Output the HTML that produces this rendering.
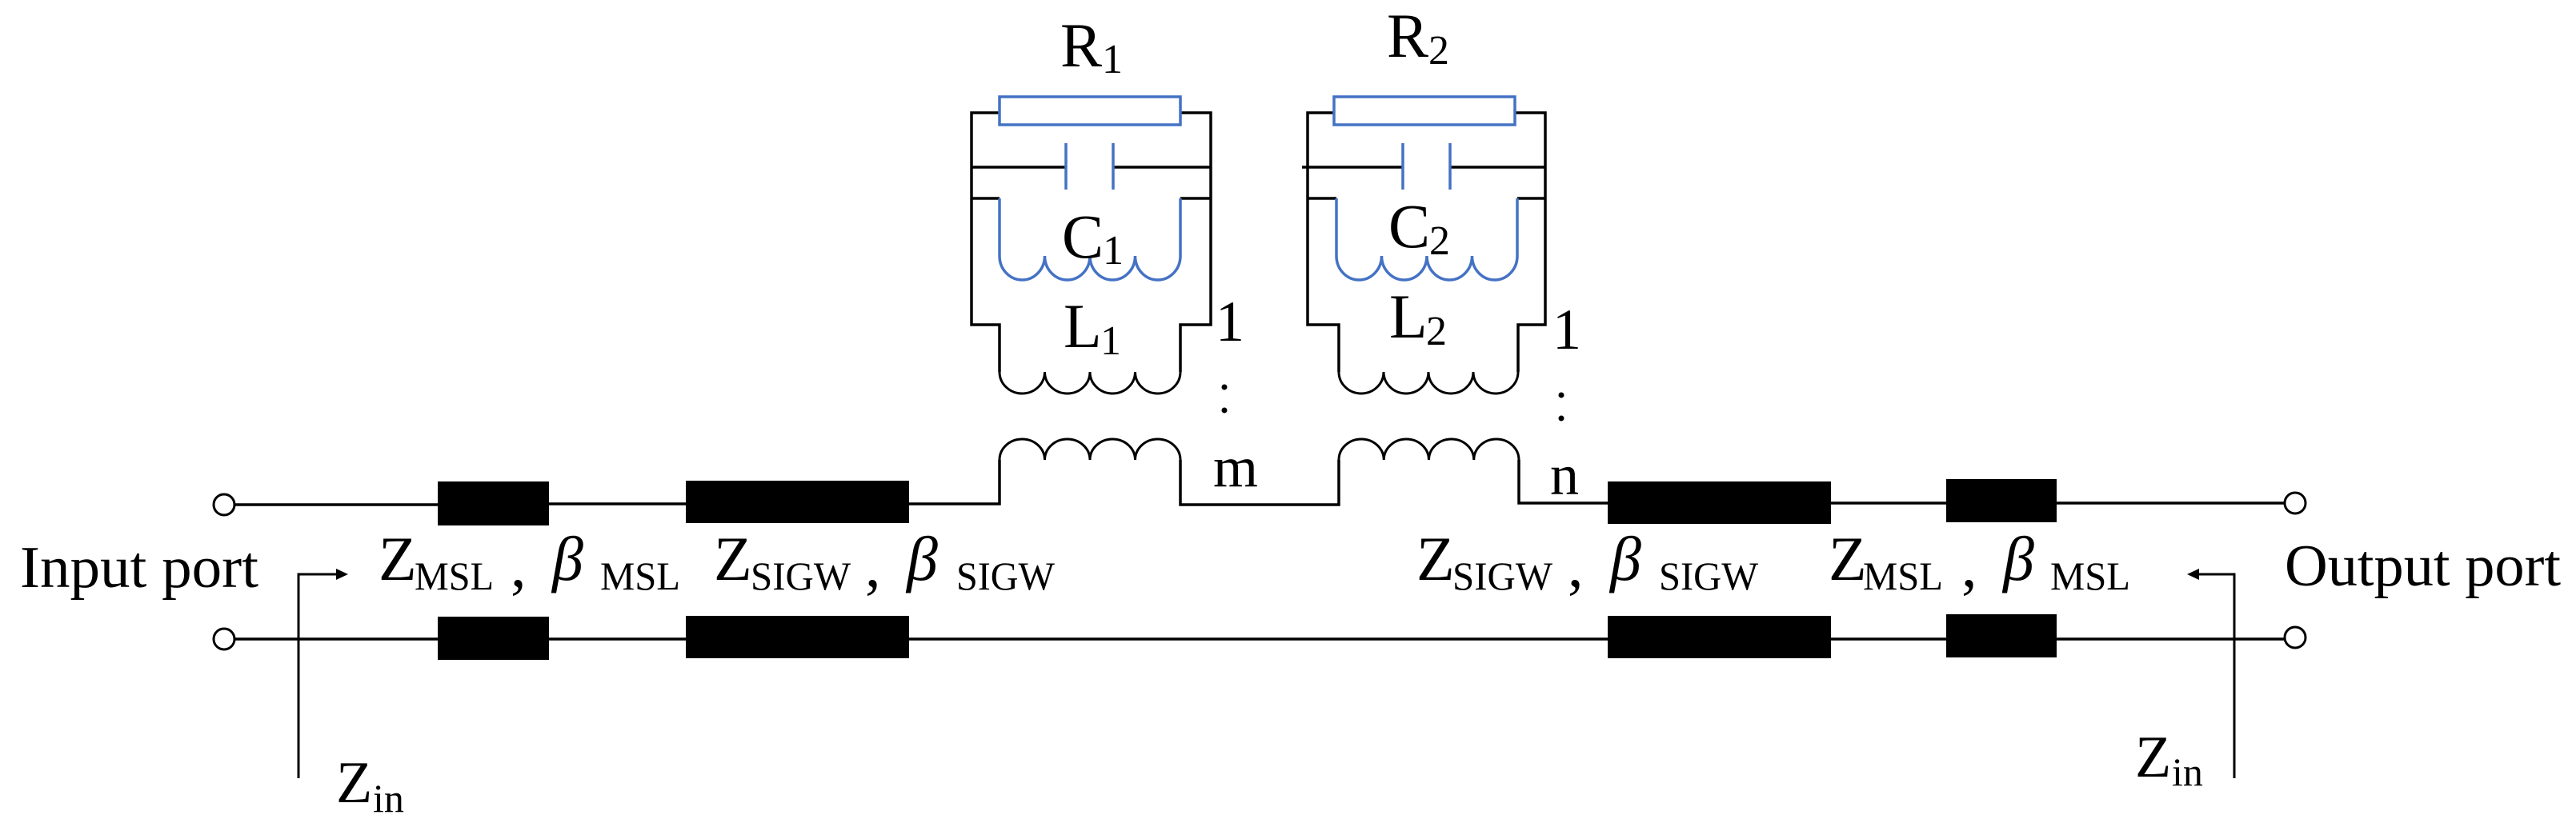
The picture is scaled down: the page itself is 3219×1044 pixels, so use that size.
<!DOCTYPE html>
<html><head><meta charset="utf-8"><style>
html,body{margin:0;padding:0;background:#fff;}
svg{display:block;}
text{font-family:"Liberation Serif","Times New Roman",serif;fill:#000;}
</style></head><body>
<svg width="3219" height="1044" viewBox="0 0 3219 1044" xmlns="http://www.w3.org/2000/svg">
<g fill="none" stroke="#000" stroke-width="3.5">
  <path d="M294,631 H547 M686,630 H857 M1136,630 H1249 V575 M1475,575 V631 H1673 V575 M1898,575 V629 H2009 M2288,629 H2432 M2570,629 H2854"/>
  <path d="M294,799 H2854"/>
  <path d="M1249,141 H1214 V406 H1249 V465 M1475,465 V406 H1513 V141 H1475"/>
  <path d="M1214,209 H1332 M1391,209 H1513 M1214,248 H1249 M1475,248 H1513"/>
  <path d="M1667,141 H1634 V406 H1673 V465 M1897,465 V406 H1931 V141 H1893"/>
  <path d="M1627,209 H1753 M1812,209 H1931 M1634,248 H1670 M1896,248 H1931"/>
  <path stroke-width="3" d="M1249,465 A28.25,27 0 0 0 1305.5,465 A28.25,27 0 0 0 1362,465 A28.25,27 0 0 0 1418.5,465 A28.25,27 0 0 0 1475,465"/>
  <path stroke-width="3" d="M1673,465 A28,27 0 0 0 1729,465 A28,27 0 0 0 1785,465 A28,27 0 0 0 1841,465 A28,27 0 0 0 1897,465"/>
  <path stroke-width="3" d="M1249,575 A28.25,26 0 0 1 1305.5,575 A28.25,26 0 0 1 1362,575 A28.25,26 0 0 1 1418.5,575 A28.25,26 0 0 1 1475,575"/>
  <path stroke-width="3" d="M1673,575 A28.1,26 0 0 1 1729.25,575 A28.1,26 0 0 1 1785.5,575 A28.1,26 0 0 1 1841.75,575 A28.1,26 0 0 1 1898,575"/>
  <path stroke-width="3" d="M373,973 V718 H420"/>
  <path stroke-width="3" d="M2792,973 V718 H2748"/>
</g>
<polygon points="420,711 435,718 420,725" fill="#000"/>
<polygon points="2748,711 2733,718 2748,725" fill="#000"/>
<g fill="none" stroke="#4472C4" stroke-width="3.5">
  <rect x="1249" y="121" width="226" height="35"/>
  <rect x="1667" y="121" width="226" height="35"/>
  <path d="M1332,179 V237 M1391,179 V237 M1753,179 V237 M1812,179 V237"/>
  <path d="M1249,248 V320 A28.25,30 0 0 0 1305.5,320 A28.25,30 0 0 0 1362,320 A28.25,30 0 0 0 1418.5,320 A28.25,30 0 0 0 1475,320 V248"/>
  <path d="M1670,248 V320 A28.25,30 0 0 0 1726.5,320 A28.25,30 0 0 0 1783,320 A28.25,30 0 0 0 1839.5,320 A28.25,30 0 0 0 1896,320 V248"/>
</g>
<g fill="#fff" stroke="#000" stroke-width="3">
  <circle cx="280" cy="631" r="13"/>
  <circle cx="280" cy="799" r="13"/>
  <circle cx="2868" cy="629" r="13"/>
  <circle cx="2868" cy="797" r="13"/>
</g>
<g fill="#000">
  <rect x="547" y="602" width="139" height="55"/>
  <rect x="857" y="601" width="279" height="53"/>
  <rect x="547" y="771" width="139" height="54"/>
  <rect x="857" y="770" width="279" height="53"/>
  <rect x="2009" y="602" width="279" height="53"/>
  <rect x="2009" y="770" width="279" height="53"/>
  <rect x="2432" y="599" width="138" height="54"/>
  <rect x="2432" y="768" width="138" height="54"/>
</g>
<g fill="#000">
  <circle cx="1530" cy="484" r="3.5"/><circle cx="1530" cy="513" r="3.5"/>
  <circle cx="1951" cy="494" r="3.5"/><circle cx="1951" cy="523" r="3.5"/>
</g>
<g font-size="78">
  <text x="1325" y="83">R</text><text x="1377" y="91" font-size="52">1</text>
  <text x="1733" y="71">R</text><text x="1785" y="80" font-size="52">2</text>
  <text x="1327" y="322">C</text><text x="1378" y="330" font-size="52">1</text>
  <text x="1735" y="309">C</text><text x="1786" y="318" font-size="52">2</text>
  <text x="1329" y="434">L</text><text x="1375" y="443" font-size="52">1</text>
  <text x="1736" y="422">L</text><text x="1782" y="431" font-size="52">2</text>
  <text x="1519" y="426" font-size="72">1</text>
  <text x="1940" y="436" font-size="72">1</text>
  <text x="1516" y="608" font-size="72">m</text>
  <text x="1937" y="618" font-size="72">n</text>
</g>
<text x="25" y="734" font-size="74" textLength="298" lengthAdjust="spacingAndGlyphs">Input port</text>
<text x="2855" y="732" font-size="74" textLength="345" lengthAdjust="spacingAndGlyphs">Output port</text>
<text x="420" y="1003" font-size="74">Z</text><text x="466" y="1015" font-size="50">in</text>
<text x="2668" y="971" font-size="74">Z</text><text x="2714" y="982" font-size="50">in</text>
<g font-size="78">
  <text x="473" y="725">Z</text>
  <text x="518" y="737" font-size="50" textLength="99" lengthAdjust="spacingAndGlyphs">MSL</text>
  <text x="638" y="733">,</text>
  <text x="690" y="725" font-style="italic">β</text>
  <text x="750" y="737" font-size="50" textLength="100" lengthAdjust="spacingAndGlyphs">MSL</text>
  <text x="892" y="725">Z</text>
  <text x="938" y="737" font-size="50" textLength="125" lengthAdjust="spacingAndGlyphs">SIGW</text>
  <text x="1081" y="733">,</text>
  <text x="1133" y="725" font-style="italic">β</text>
  <text x="1195" y="737" font-size="50" textLength="123" lengthAdjust="spacingAndGlyphs">SIGW</text>
  <text x="1770" y="725">Z</text>
  <text x="1815" y="737" font-size="50" textLength="125" lengthAdjust="spacingAndGlyphs">SIGW</text>
  <text x="1959" y="733">,</text>
  <text x="2012" y="725" font-style="italic">β</text>
  <text x="2073" y="737" font-size="50" textLength="124" lengthAdjust="spacingAndGlyphs">SIGW</text>
  <text x="2285" y="725">Z</text>
  <text x="2328" y="737" font-size="50" textLength="100" lengthAdjust="spacingAndGlyphs">MSL</text>
  <text x="2451" y="733">,</text>
  <text x="2503" y="725" font-style="italic">β</text>
  <text x="2562" y="737" font-size="50" textLength="100" lengthAdjust="spacingAndGlyphs">MSL</text>
</g>
</svg>
</body></html>
